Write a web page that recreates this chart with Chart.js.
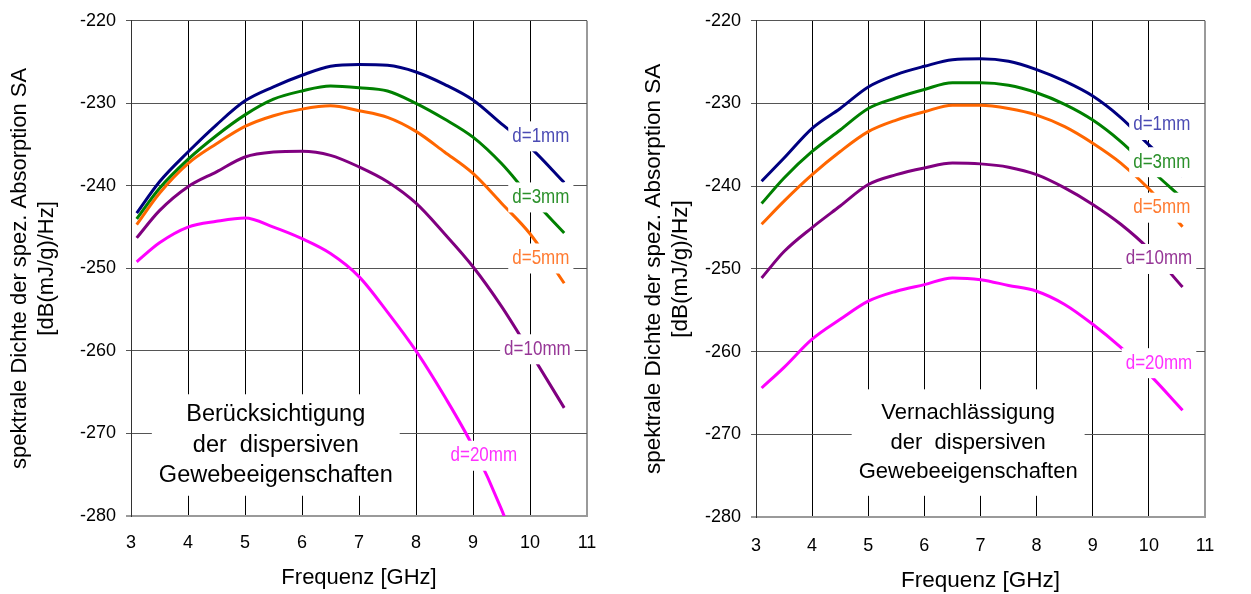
<!DOCTYPE html>
<html>
<head>
<meta charset="utf-8">
<script src="https://cdn.jsdelivr.net/npm/chart.js@4.4.1/dist/chart.umd.min.js"></script>
<style>
body{margin:0;background:#fff;}
.box{position:absolute;top:0;height:594px;}
#leftBox{left:0;width:625px;}
#rightBox{left:625px;width:626px;}
</style>
</head>
<body>
<div class="box" id="leftBox"><canvas id="leftChart"></canvas></div>
<div class="box" id="rightBox"><canvas id="rightChart"></canvas></div>
<script>
"use strict";

// Frequenzen [GHz]
let freq=[3.1,3.5,4,4.5,5,5.5,6,6.5,7,7.5,8,8.5,9,9.5,10,10.6];
let names=["d=1mm","d=3mm","d=5mm","d=10mm","d=20mm"];
let yTicks=[-220,-230,-240,-250,-260,-270,-280];
let xTicks=[3,4,5,6,7,8,9,10,11];

// links: Beruecksichtigung der Dispersion
let left1 =[-243.3,-239.5,-235.9,-232.6,-229.7,-228.0,-226.6,-225.5,-225.3,-225.4,-226.2,-227.7,-229.6,-232.5,-235.3,-239.6];
let left3 =[-244.0,-240.3,-236.8,-233.9,-231.4,-229.5,-228.5,-227.9,-228.1,-228.5,-230.0,-231.9,-234.1,-237.3,-241.3,-245.7];
let left5 =[-244.7,-240.9,-237.3,-234.9,-232.8,-231.5,-230.7,-230.3,-230.9,-231.7,-233.4,-235.9,-238.5,-242.1,-245.8,-251.8];
let left10=[-246.3,-243.0,-240.1,-238.3,-236.5,-235.9,-235.8,-236.3,-237.7,-239.5,-242.1,-245.8,-249.8,-254.6,-260.1,-266.9];
let left20=[-249.2,-246.9,-245.0,-244.3,-243.9,-245.0,-246.4,-248.2,-251.0,-255.3,-260.0,-265.5,-271.6,-279.2,-288.5,null];

// rechts: Vernachlaessigung der Dispersion
let right1 =[-239.4,-236.6,-233.0,-230.6,-228.0,-226.5,-225.5,-224.7,-224.6,-224.9,-225.9,-227.3,-229.1,-231.7,-235.0,-238.8];
let right3 =[-242.1,-239.0,-235.8,-233.2,-230.6,-229.3,-228.3,-227.5,-227.5,-227.8,-228.7,-230.1,-232.0,-234.6,-237.8,-241.5];
let right5 =[-244.6,-241.8,-238.6,-235.8,-233.4,-232.0,-231.0,-230.2,-230.2,-230.6,-231.4,-232.8,-234.8,-237.2,-240.3,-244.9];
let right10=[-251.1,-247.9,-245.0,-242.4,-239.8,-238.6,-237.8,-237.2,-237.3,-237.7,-238.6,-240.2,-242.2,-244.6,-247.6,-252.2];
let right20=[-264.4,-261.9,-258.5,-256.1,-253.9,-252.7,-251.9,-251.1,-251.3,-252.0,-252.7,-254.3,-256.7,-259.5,-262.7,-267.1];

let lineColors=["#000080","#008000","#ff6600","#800080","#ff00ff"];
let textColors=["#4b4bb4","#2a902a","#ff7a30","#963696","#ff30ff"];
let FONT="'Liberation Sans', Arial, sans-serif";

function makeData(list) {
    return list.map(function (vals, i) {
        return {
            label: names[i],
            data: freq.map(function (f, k) { return {x: f, y: vals[k]}; }),
            borderColor: lineColors[i],
            borderWidth: 3,
            pointRadius: 0,
            tension: 0.4,
            cubicInterpolationMode: "monotone",
            fill: false
        };
    });
}

function labelPlugin(curveLabels, note) {
    return {
        id: "curveLabels",
        afterDatasetsDraw(chart) {
            let ctx=chart.ctx, sx=chart.scales.x, sy=chart.scales.y;
            ctx.save();
            ctx.textAlign="center";
            ctx.textBaseline="middle";
            ctx.font="17px "+FONT;
            curveLabels.forEach(function (l, i) {
                let px=sx.getPixelForValue(l.x), py=sy.getPixelForValue(l.y);
                let w=ctx.measureText(names[i]).width;
                ctx.fillStyle="#fff";
                ctx.fillRect(px-w/2-4, py-15, w+8, 30);
                ctx.fillStyle=textColors[i];
                ctx.save();
                ctx.translate(px, py);
                ctx.scale(1, 1.15);
                ctx.fillText(names[i], 0, 0);
                ctx.restore();
            });
            ctx.font=note.size+"px "+FONT;
            let px=sx.getPixelForValue(note.x), py=sy.getPixelForValue(note.y);
            let w=0;
            note.lines.forEach(function (t) { w=Math.max(w, ctx.measureText(t).width); });
            let h=note.lines.length*note.step;
            ctx.fillStyle="#fff";
            ctx.fillRect(px-w/2-note.pad, py-h/2-note.padY, w+2*note.pad, h+2*note.padY);
            ctx.fillStyle="#000";
            note.lines.forEach(function (t, k) {
                ctx.fillText(t, px, py+(k-(note.lines.length-1)/2)*note.step);
            });
            ctx.restore();
        }
    };
}

function makeChart(id, list, cfg) {
    return new Chart(document.getElementById(id), {
        type: "line",
        data: {datasets: makeData(list)},
        options: {
            responsive: true,
            maintainAspectRatio: false,
            animation: false,
            layout: {padding: {top: cfg.top, right: cfg.right, left: 0, bottom: 0}},
            plugins: {legend: {display: false}, tooltip: {enabled: false}},
            scales: {
                x: {
                    type: "linear", min: 3, max: 11,
                    afterBuildTicks: function (s) { s.ticks=xTicks.map(function (v) { return {value: v}; }); },
                    afterFit: function (s) { s.height=cfg.xHeight; },
                    grid: {
                        drawTicks: false,
                        color: function (c) { return c.tick.value===11 ? "#9a9a9a" : (c.tick.value===3 ? "#333" : "#000"); },
                        lineWidth: function (c) { return c.tick.value===11 ? 2 : 1; }
                    },
                    border: {color: "#9a9a9a", width: 2},
                    ticks: {color: "#000", font: {family: FONT, size: 18}, padding: cfg.xPad, maxRotation: 0},
                    title: {display: true, text: "Frequenz [GHz]", color: "#000",
                        font: {family: FONT, size: cfg.titleSize}, padding: {top: 0, bottom: cfg.xTitlePad}}
                },
                y: {
                    type: "linear", min: -280, max: -220,
                    afterBuildTicks: function (s) { s.ticks=yTicks.map(function (v) { return {value: v}; }); },
                    afterFit: function (s) { s.width=131; },
                    grid: {
                        drawTicks: true, tickLength: 5,
                        color: function (c) { return c.tick.value===-280 ? "#9a9a9a" : "#555"; },
                        lineWidth: function (c) { return c.tick.value===-280 ? 2 : 1; }
                    },
                    border: {color: "#333", width: 1},
                    ticks: {color: "#000", font: {family: FONT, size: 18}, padding: 10},
                    title: {display: true, text: ["spektrale Dichte der spez. Absorption SA", "[dB(mJ/g)/Hz]"],
                        color: "#000", font: {family: FONT, size: cfg.titleSize, lineHeight: 1.2},
                        padding: {top: cfg.yTitlePad, bottom: 0}}
                }
            }
        },
        plugins: [labelPlugin(cfg.labels, cfg.note)]
    });
}

makeChart("leftChart", [left1, left3, left5, left10, left20], {
    top: 20, right: 38, xHeight: 78, xPad: 16, xTitlePad: 3, yTitlePad: 7, titleSize: 22,
    labels: [{x: 10.19, y: -234.0}, {x: 10.19, y: -241.4}, {x: 10.19, y: -248.8}, {x: 10.13, y: -259.8}, {x: 9.19, y: -272.7}],
    note: {x: 5.54, y: -271.4, size: 23.5, step: 30.5, pad: 7, padY: 5,
        lines: ["Berücksichtigung", "der  dispersiven", "Gewebeeigenschaften"]}
});

makeChart("rightChart", [right1, right3, right5, right10, right20], {
    top: 14, right: 46, xHeight: 77, xPad: 18, xTitlePad: 0, yTitlePad: 15, titleSize: 22.5,
    labels: [{x: 10.23, y: -232.6}, {x: 10.23, y: -237.1}, {x: 10.23, y: -242.6}, {x: 10.18, y: -248.8}, {x: 10.18, y: -261.4}],
    note: {x: 6.78, y: -271.0, size: 22, step: 29.5, pad: 7, padY: 9,
        lines: ["Vernachlässigung", "der  dispersiven", "Gewebeeigenschaften"]}
});
</script>
</body>
</html>
